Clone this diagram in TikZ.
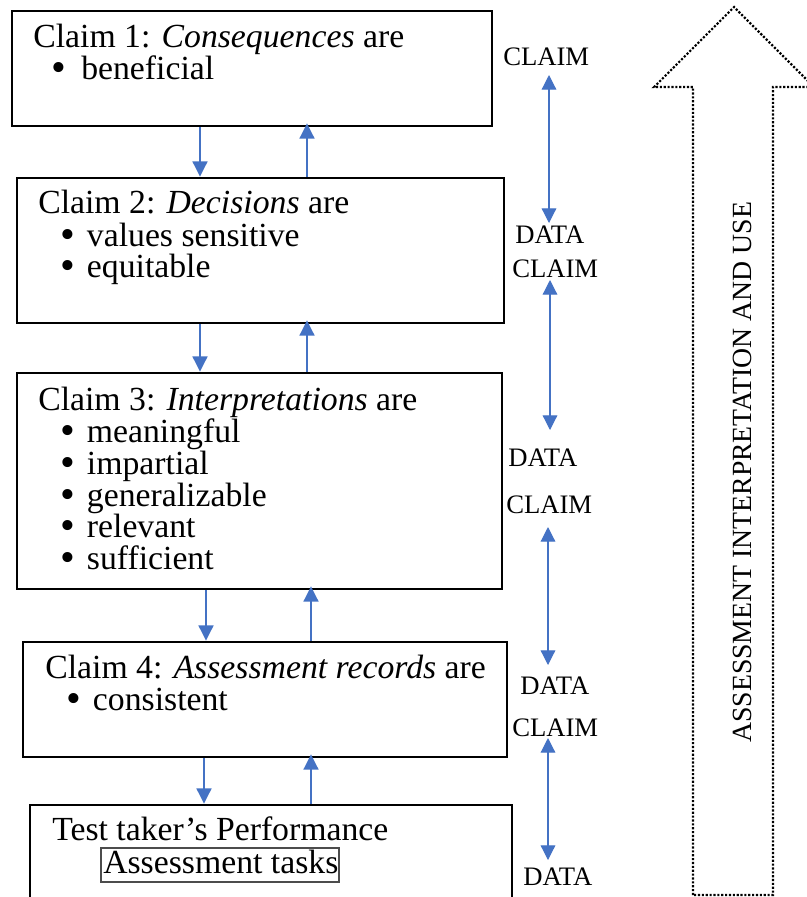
\documentclass[tikz,border=0pt]{standalone}
\usepackage{fontspec}
\usepackage{graphicx}
\setmainfont{Liberation Serif}
\usetikzlibrary{arrows.meta,fit}
\definecolor{arrowblue}{HTML}{4472C4}
\newcommand\bitem[2][18.75pt]{\makebox[#1][l]{\raisebox{-2pt}[0pt][0pt]{\scalebox{1.25}{•}}}#2}
\begin{document}
\begin{tikzpicture}[x=0.75pt,y=-0.75pt,
  claimbox/.style={draw=black, line width=1.9pt, inner sep=0pt},
  taskbox/.style={draw=black!70, line width=0.8pt, inner sep=0pt},
  boxtext/.style={anchor=base west, inner sep=0pt, text height=17pt, text depth=5pt, font=\fontsize{25.3}{24}\selectfont},
  sidelabel/.style={anchor=base west, inner sep=0pt, font=\fontsize{20}{20}\selectfont},
  flow/.style={draw=arrowblue, line width=1.9pt, -{Triangle[length=11.5pt,width=11pt]}},
  upflow/.style={flow, shorten >=-3pt},
  link/.style={draw=arrowblue, line width=0.9pt, {Triangle[length=11pt,width=11pt]}-{Triangle[length=11pt,width=11pt]}},
  bigarrow/.style={draw=black, line width=1.6pt, dash pattern=on 1.6pt off 1.3pt, line join=miter}
]
\clip (0,0) rectangle (807,897);
\fill[white] (0,0) rectangle (807,897);

% boxes
\node[claimbox, fit={(12,11) (492,126)}] (c1) {};
\node[claimbox, fit={(17,178) (504,323)}] (c2) {};
\node[claimbox, fit={(17,373) (502,589)}] (c3) {};
\node[claimbox, fit={(23,642) (507,757)}] (c4) {};
\node[claimbox, fit={(30,805) (512,920)}] (c5) {};

% texts
\node[boxtext] (t1) at (33,47) {Claim 1: \textit{Consequences} are};
\node[boxtext] (b1a) at (51,79) {\bitem[22.5pt]{beneficial}};

\node[boxtext] (t2) at (38,213) {Claim 2: \textit{Decisions} are};
\node[boxtext] (b2a) at (60,246) {\bitem[20pt]{values sensitive}};
\node[boxtext] (b2b) at (60,277) {\bitem[20pt]{equitable}};

\node[boxtext] (t3) at (38,410) {Claim 3: \textit{Interpretations} are};
\node[boxtext] (b3a) at (60,442) {\bitem[20pt]{meaningful}};
\node[boxtext] (b3b) at (60,474) {\bitem[20pt]{impartial}};
\node[boxtext] (b3c) at (60,506) {\bitem[20pt]{generalizable}};
\node[boxtext] (b3d) at (60,537) {\bitem[20pt]{relevant}};
\node[boxtext] (b3e) at (60,569) {\bitem[20pt]{sufficient}};

\node[boxtext] (t4) at (45,678) {Claim 4: \textit{Assessment records} are};
\node[boxtext] (b4a) at (66,710) {\bitem[20pt]{consistent}};

\node[boxtext] (t5) at (52,840) {Test taker’s Performance};
\node[taskbox, fit={(101,848) (339,882)}] (tb) {};
\node[boxtext] (t6) at (103,873) {Assessment tasks};

% vertical arrows between boxes
\coordinate (xa) at (200,0);
\coordinate (xb) at (307,0);
\coordinate (xc) at (206,0);
\coordinate (xd) at (311,0);
\coordinate (xe) at (204,0);
\draw[flow] (c1.south -| xa) -- (c2.north -| xa);
\draw[upflow] (c2.north -| xb) -- (c1.south -| xb);
\draw[flow] (c2.south -| xa) -- (c3.north -| xa);
\draw[upflow] (c3.north -| xb) -- (c2.south -| xb);
\draw[flow] (c3.south -| xc) -- (c4.north -| xc);
\draw[upflow] (c4.north -| xd) -- (c3.south -| xd);
\draw[flow] (c4.south -| xe) -- (c5.north -| xe);
\draw[upflow] (c5.north -| xd) -- (c4.south -| xd);

% side labels
\node[sidelabel] (cl1) at (503,65) {CLAIM};
\node[sidelabel] (da1) at (515,243) {DATA};
\node[sidelabel] (cl2) at (512,277) {CLAIM};
\node[sidelabel] (da2) at (508,466) {DATA};
\node[sidelabel] (cl3) at (506,513) {CLAIM};
\node[sidelabel] (da3) at (520,694) {DATA};
\node[sidelabel] (cl4) at (512,736) {CLAIM};
\node[sidelabel] (da4) at (523,885) {DATA};

\coordinate (l1t) at (549,75);  \coordinate (l1b) at (549,223);
\coordinate (l2t) at (550,280); \coordinate (l2b) at (550,430);
\coordinate (l3t) at (548,527); \coordinate (l3b) at (548,665);
\coordinate (l4t) at (548,738); \coordinate (l4b) at (548,860);
\draw[link] (l1t) -- (l1b);
\draw[link] (l2t) -- (l2b);
\draw[link] (l3t) -- (l3b);
\draw[link] (l4t) -- (l4b);

% big dotted arrow
\draw[bigarrow] (693,895) -- (693,87) -- (654,87) -- (734,7) -- (814,87) -- (773,87) -- (773,895) -- cycle;
\node[rotate=90, anchor=base west, inner sep=0pt, font=\fontsize{20.8}{20.8}\selectfont] (vt) at (751,743) {ASSESSMENT INTERPRETATION AND USE};
\end{tikzpicture}
\end{document}
